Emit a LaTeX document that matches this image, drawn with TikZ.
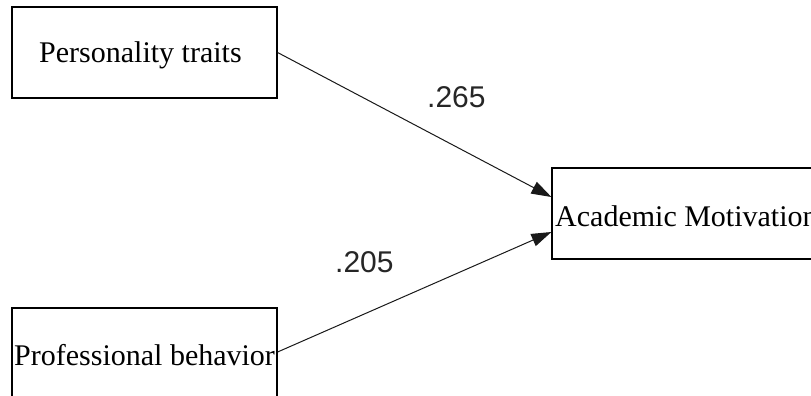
\documentclass[tikz,border=0pt]{standalone}
\usepackage{fontspec}
\setmainfont{Liberation Serif}
\newfontfamily\coeffont{Liberation Sans}
\usetikzlibrary{arrows.meta}

\tikzset{
  varbox/.style={draw=black, line width=1.2pt, rectangle, inner sep=0pt},
  vartext/.style={anchor=base west, inner sep=0pt, font=\fontsize{30}{35}\selectfont},
  coef/.style={anchor=base west, inner sep=0pt, text=black!85, font=\coeffont\fontsize{30}{36}\selectfont},
  path/.style={draw=black!90, line width=1pt, -{Triangle[length=20pt,width=13pt]}}
}

\begin{document}
\begin{tikzpicture}[x=1pt,y=-1pt]
  \useasboundingbox (0,0) rectangle (811,396);
  \clip (0,0) rectangle (811,396);
  \fill[white] (0,0) rectangle (811,396);

  % variable boxes
  \node[varbox, minimum width=265pt, minimum height=91pt] (pt) at (144.5,52.5) {};
  \node[varbox, minimum width=265pt, minimum height=92pt] (pb) at (144.5,354) {};
  \node[varbox, minimum width=278pt, minimum height=91pt] (am) at (691,213.5) {};

  % box captions
  \node[vartext] (ptlabel) at (39,63) {Personality traits};
  \node[vartext] (pblabel) at (14,365) {Professional behavior};
  \node[vartext] (amlabel) at (555,226) {Academic Motivation};

  % paths
  \draw[path] (pt.east) -- ([yshift=16.5pt]am.west);
  \draw[path] ([yshift=2pt]pb.east) -- ([yshift=-18.5pt]am.west);

  % path coefficients
  \node[coef] (c1) at (427,107) {.265};
  \node[coef] (c2) at (335,272) {.205};
\end{tikzpicture}
\end{document}
